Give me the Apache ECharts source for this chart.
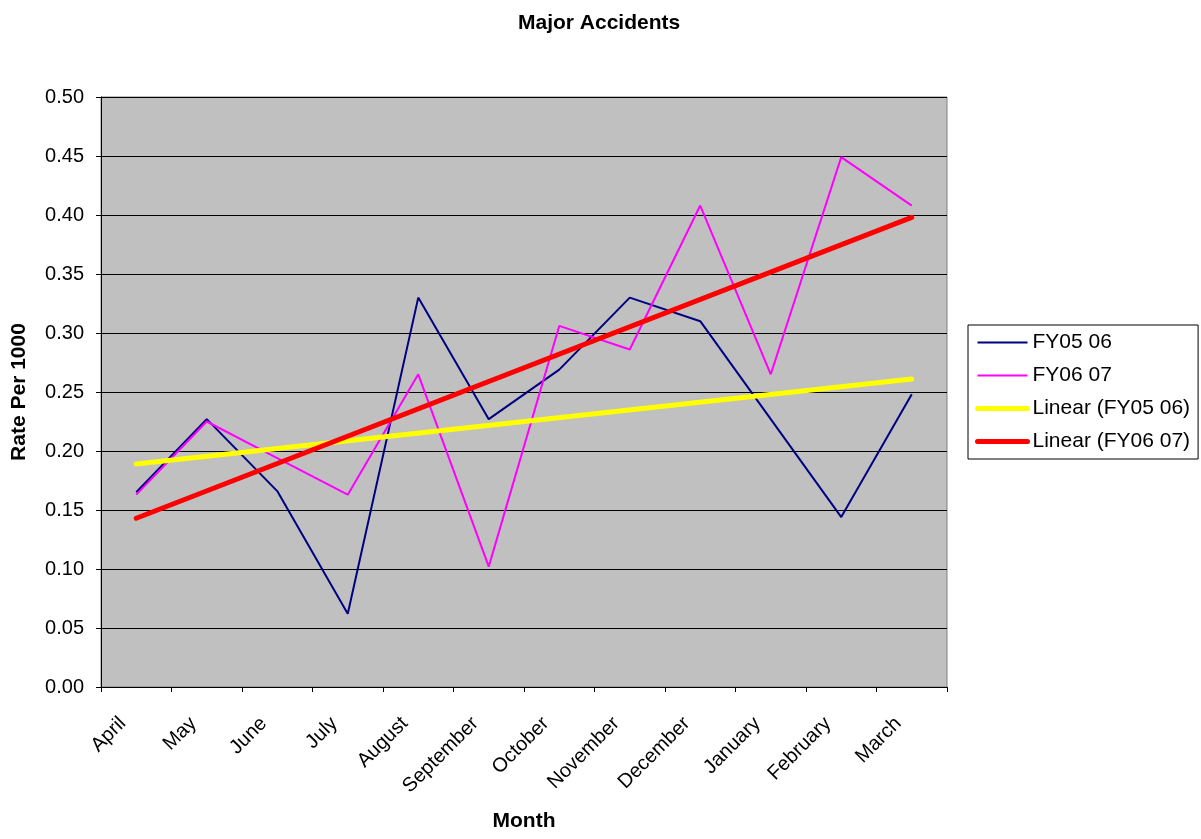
<!DOCTYPE html>
<html>
<head>
<meta charset="utf-8">
<script src="https://cdn.jsdelivr.net/npm/echarts@6/dist/echarts.min.js"></script>
<style>html,body{margin:0;padding:0;background:#fff}#c{width:1201px;height:839px}</style>
</head>
<body>
<div id="c"></div>
<script>
const months = ['April','May','June','July','August','September','October','November','December','January','February','March'];
const fy0506 = [0.165,0.227,0.166,0.062,0.330,0.227,0.269,0.330,0.310,0.227,0.144,0.248];
const fy0607 = [0.163,0.225,0.194,0.163,0.265,0.102,0.306,0.286,0.408,0.265,0.449,0.408];
const trend0506 = [0.189,null,null,null,null,null,null,null,null,null,null,0.261];
const trend0607 = [0.143,null,null,null,null,null,null,null,null,null,null,0.398];
const yTicks = [0,0.05,0.10,0.15,0.20,0.25,0.30,0.35,0.40,0.45,0.50];

const chart = echarts.init(document.getElementById('c'), null, {renderer:'canvas'});
const font = 'Liberation Sans, Arial, sans-serif';
chart.setOption({
  animation:false,
  backgroundColor:'#ffffff',
  textStyle:{fontFamily:font},
  title:{text:'Major Accidents',left:513,top:8,textStyle:{fontFamily:font,fontSize:21,fontWeight:'bold',color:'#000'}},
  grid:{left:101,right:254,top:97,bottom:152,show:true,backgroundColor:'#C0C0C0',borderColor:'#808080',borderWidth:1},
  legend:{
    orient:'vertical',left:968,top:325,
    backgroundColor:'#fff',borderColor:'#000',borderWidth:1,borderRadius:0,
    padding:[7,8,7,7],itemGap:12,itemWidth:50,itemHeight:16,
    itemStyle:{opacity:0},
    textStyle:{fontFamily:font,fontSize:21,lineHeight:21,color:'#000'},
    data:[
      {name:'FY05 06',lineStyle:{width:2}},
      {name:'FY06 07',lineStyle:{width:2}},
      {name:'Linear (FY05 06)',lineStyle:{width:5,cap:'round'}},
      {name:'Linear (FY06 07)',lineStyle:{width:5,cap:'round'}}
    ]
  },
  xAxis:{
    type:'category',data:months,boundaryGap:true,
    name:'Month',nameLocation:'middle',nameGap:124,
    nameTextStyle:{fontFamily:font,fontSize:21,fontWeight:'bold',color:'#000'},
    axisLine:{lineStyle:{color:'#000',width:1}},
    axisTick:{show:true,alignWithLabel:false,length:5,lineStyle:{color:'#000'}},
    axisLabel:{rotate:45,fontSize:20,color:'#000',fontFamily:font,margin:20,interval:0,padding:[0,19,0,0]},
    splitLine:{show:false}
  },
  yAxis:{
    type:'value',min:0,max:0.5,interval:0.05,
    name:'Rate Per 1000',nameLocation:'middle',nameGap:71,
    nameTextStyle:{fontFamily:font,fontSize:21,fontWeight:'bold',color:'#000'},
    axisLine:{show:true,lineStyle:{color:'#000',width:1}},
    axisTick:{show:true,length:5,lineStyle:{color:'#000'}},
    axisLabel:{fontSize:20,color:'#000',fontFamily:font,margin:17,
      formatter:function(v){ const t = yTicks.find(x=>Math.abs(x-v)<1e-9); return (t!==undefined?t:v).toFixed(2);} },
    splitLine:{show:true,lineStyle:{color:'#000',width:1}}
  },
  series:[
    {name:'FY05 06',type:'line',data:fy0506,symbol:'none',lineStyle:{color:'#000080',width:2},itemStyle:{color:'#000080'},z:3},
    {name:'FY06 07',type:'line',data:fy0607,symbol:'none',lineStyle:{color:'#FF00FF',width:2},itemStyle:{color:'#FF00FF'},z:4},
    {name:'Linear (FY05 06)',type:'line',data:trend0506,connectNulls:true,symbol:'none',lineStyle:{color:'#FFFF00',width:5,cap:'round'},itemStyle:{color:'#FFFF00'},z:5},
    {name:'Linear (FY06 07)',type:'line',data:trend0607,connectNulls:true,symbol:'none',lineStyle:{color:'#FF0000',width:5,cap:'round'},itemStyle:{color:'#FF0000'},z:6}
  ]
});
</script>
</body>
</html>
